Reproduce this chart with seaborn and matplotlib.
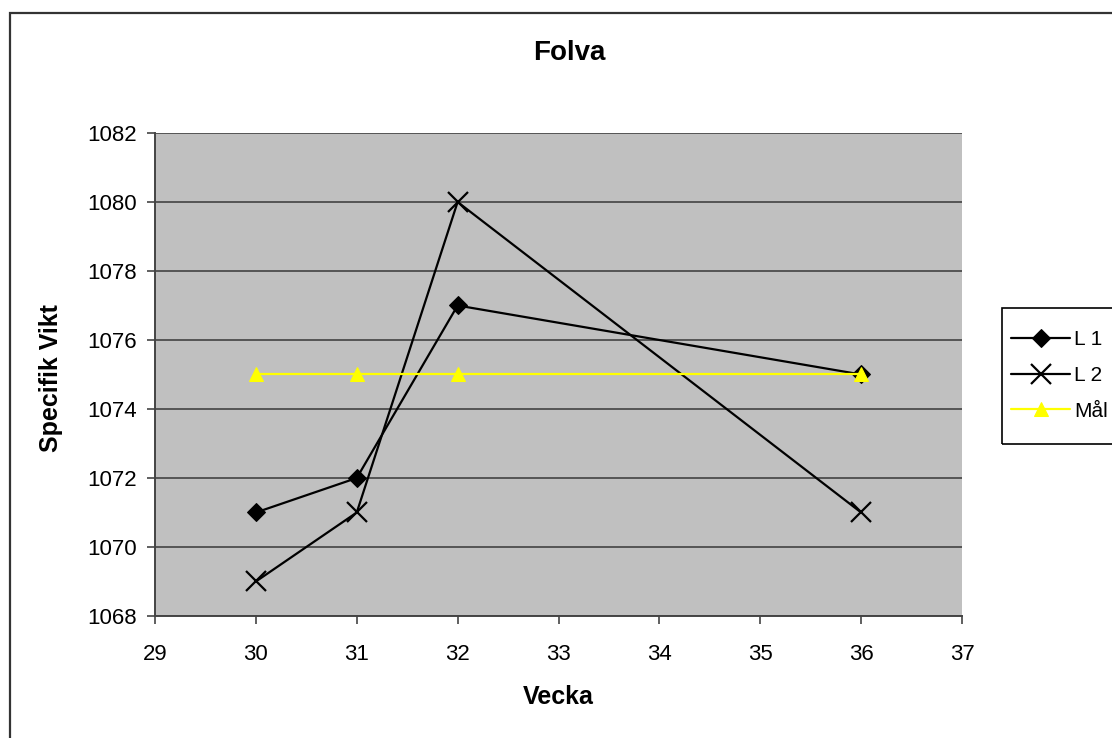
import matplotlib
matplotlib.use("Agg")
import matplotlib.pyplot as plt
import seaborn as sns
import pandas as pd
from matplotlib.patches import Rectangle

weeks = [30, 31, 32, 36]
l1 = [1071, 1072, 1077, 1075]
l2 = [1069, 1071, 1080, 1071]
mal = [1075, 1075, 1075, 1075]
series_names = ["L 1", "L 2", "Mål"]
x_ticks = [29, 30, 31, 32, 33, 34, 35, 36, 37]
y_ticks = [1068, 1070, 1072, 1074, 1076, 1078, 1080, 1082]

sns.set_style("white")
plt.rcParams['font.family'] = ['Liberation Sans', 'DejaVu Sans']
plt.rcParams['text.color'] = 'black'
plt.rcParams['xtick.color'] = 'black'
plt.rcParams['ytick.color'] = 'black'

W, H = 1112, 738
fig = plt.figure(figsize=(W/100, H/100), dpi=100)
ax = fig.add_axes([155/W, 1-616/H, (962-155)/W, (616-133)/H])
ax.set_facecolor("#C0C0C0")

df = pd.DataFrame({"Vecka": weeks * 3,
                   "Värde": l1 + l2 + mal,
                   "Serie": [series_names[0]]*4 + [series_names[1]]*4 + [series_names[2]]*4})

styles = {
    "L 1": dict(color="black", marker="D", markersize=9, mec="black", mfc="black"),
    "L 2": dict(color="black", marker="x", markersize=14, mew=1.6, mec="black"),
    "Mål": dict(color="#FFFF00", marker="^", markersize=10, mec="#FFFF00", mfc="#FFFF00"),
}
for i, name in enumerate(series_names):
    sub = df[df["Serie"] == name]
    sns.lineplot(data=sub, x="Vecka", y="Värde", ax=ax, label=name,
                 linewidth=1.6, zorder=3 + i, **styles[name])

ax.set_xlim(29, 37)
ax.set_ylim(1068, 1082)
ax.set_xticks(x_ticks)
ax.set_yticks(y_ticks)
ax.yaxis.grid(True, color="#555555", linewidth=1.4)
ax.set_axisbelow(True)
for s in ["top", "right"]:
    ax.spines[s].set_visible(False)
for s in ["left", "bottom"]:
    ax.spines[s].set_color("#444444")
    ax.spines[s].set_linewidth(1.4)
ax.tick_params(axis="both", which="major", labelsize=16, length=6, width=1.2,
               color="#444444", direction="out", bottom=True, left=True)
ax.tick_params(axis="x", pad=14)
ax.tick_params(axis="y", pad=7)
ax.set_xlabel("")
ax.set_ylabel("")

fig.text(569/W, 1-53/H, "Folva", fontsize=20, fontweight="bold", ha="center", va="center")
fig.text(558/W, 1-697/H, "Vecka", fontsize=18, fontweight="bold", ha="center", va="center")
fig.text(51/W, 1-378/H, "Specifik Vikt", fontsize=18, fontweight="bold", ha="center",
         va="center", rotation=90)

handles, labels = ax.get_legend_handles_labels()
ax.legend(handles, labels, loc="upper left", bbox_to_anchor=(1001/W, 1-320/H),
          bbox_transform=fig.transFigure, frameon=False,
          fontsize=15, handlelength=2.8, handletextpad=0.2,
          borderaxespad=0, borderpad=0.5, labelspacing=0.8)

# legend frame (extends past the figure edge like the reference)
fig.patches.append(Rectangle((1002/W, 1-444/H), 0.2, (444-308)/H,
                             transform=fig.transFigure, fill=False,
                             edgecolor="black", linewidth=1.2, clip_on=False))

fig.patches.append(Rectangle((10/W, -0.1), 1.2, 1.1 - 13/H,
                             transform=fig.transFigure, fill=False,
                             edgecolor="#333333", linewidth=1.6, clip_on=False))

fig.savefig("out.png", dpi=100)
